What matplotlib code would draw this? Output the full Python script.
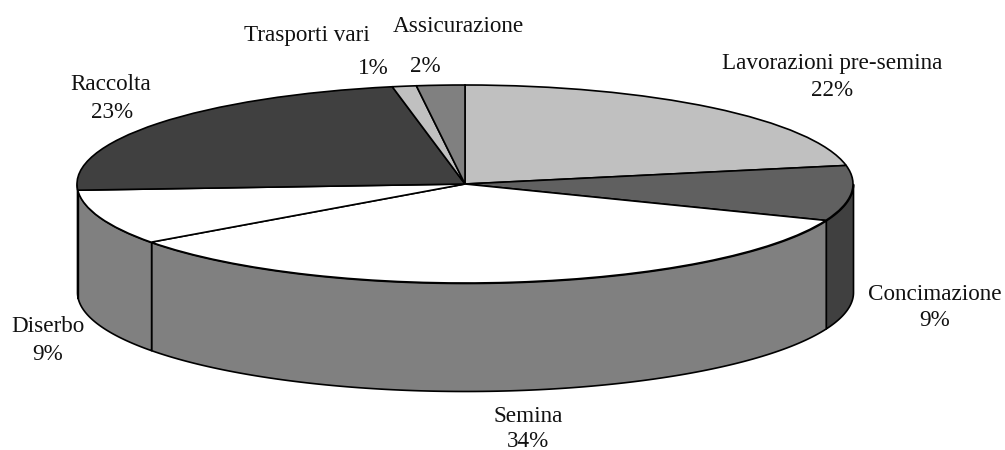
import numpy as np
import matplotlib
matplotlib.use('Agg')
import matplotlib.pyplot as plt

plt.rcParams['font.family'] = ['Liberation Serif', 'DejaVu Serif']

# Slices, clockwise from 12 o'clock
labels = ['Lavorazioni pre-semina', 'Concimazione', 'Semina', 'Diserbo', 'Raccolta', 'Trasporti vari', 'Assicurazione']
values = [22, 9, 34, 9, 23, 1, 2]
top_colors = ['#c0c0c0', '#606060', '#ffffff', '#ffffff', '#404040', '#c0c0c0', '#808080']
wall_colors = ['#909090', '#404040', '#808080', '#808080', '#808080', '#808080', '#808080']

# Text positions in image pixels (center x, center y)
name_pos = [(832, 63), (935, 294), (528, 416), (48, 327), (111, 85), (307, 35), (458, 27)]
pct_pos = [(832, 90), (935, 320), (528, 441), (48, 354), (112, 112), (373, 69), (425, 67)]

# Pie geometry in image pixels
cx, cy = 465, 184
rx, ry = 388, 99
depth = 108
W, H = 1005, 450


def px(x, y):
    return (x - cx) / rx, (cy - y) / ry


fig = plt.figure(figsize=(W / 100, H / 100), dpi=100)
ax = fig.add_axes([0, 0, 1, 1])

# Side walls, only the front half can be seen
edges = np.concatenate([[0], np.cumsum(values)]) / sum(values) * 360
for i in range(len(values)):
    t0 = max(edges[i], 90)
    t1 = min(edges[i + 1], 270)
    if t1 <= t0:
        continue
    t = np.radians(np.linspace(t0, t1, 120))
    ax.fill_between(np.sin(t), np.cos(t), np.cos(t) - depth / ry,
                    facecolor=wall_colors[i], edgecolor='black', linewidth=1.2, zorder=1)

# Top face, the circle is squashed by the axes limits
ax.pie(values, colors=top_colors, startangle=90, counterclock=False, radius=1,
       wedgeprops={'edgecolor': 'black', 'linewidth': 1.2, 'zorder': 2})
ax.set_aspect('auto')
ax.set_xlim(-cx / rx, (W - cx) / rx)
ax.set_ylim((cy - H) / ry, cy / ry)
ax.axis('off')

for i in range(len(labels)):
    x, y = px(*name_pos[i])
    ax.text(x, y, labels[i], fontsize=16.7, ha='center', va='center', color='#111111')
    x, y = px(*pct_pos[i])
    ax.text(x, y, f'{values[i]}%', fontsize=16.7, ha='center', va='center', color='#111111')

fig.savefig('out.png', dpi=100)
